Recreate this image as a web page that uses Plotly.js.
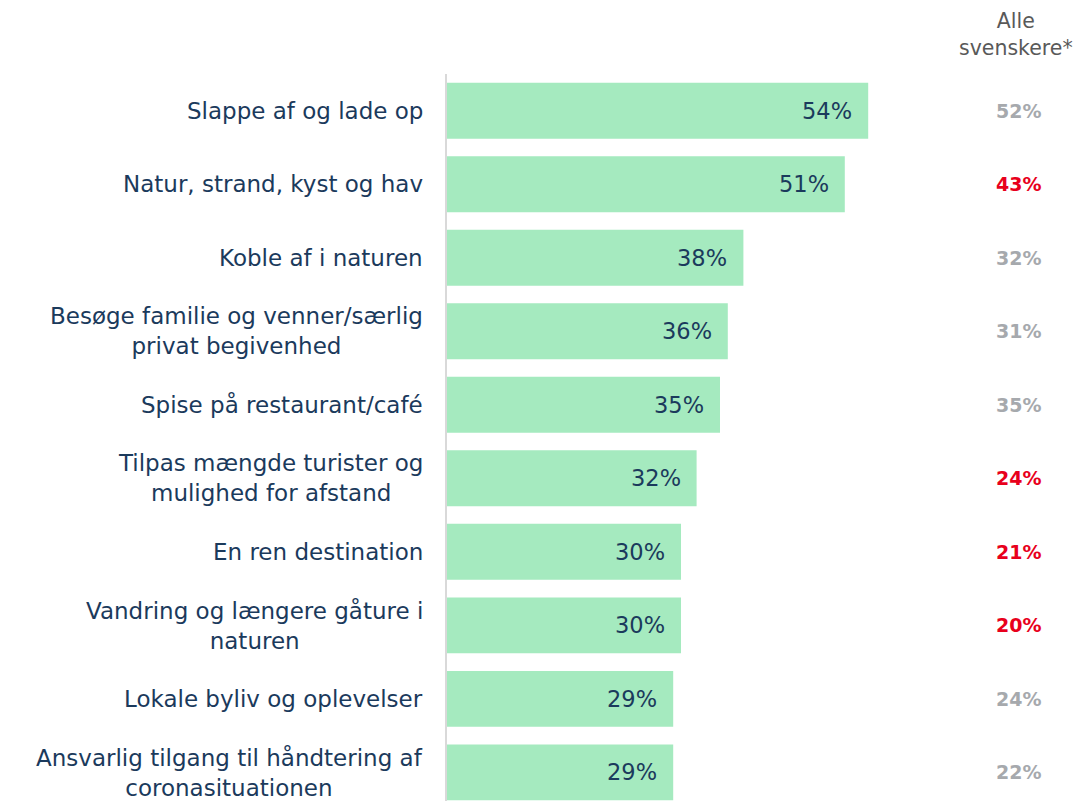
<!DOCTYPE html>
<html>
<head>
<meta charset="utf-8">
<script src="https://cdn.plot.ly/plotly-3.0.1.min.js"></script>
<style>html,body{margin:0;padding:0;background:#fff;}#chart{width:1076px;height:801px;}</style>
</head>
<body>
<div id="chart"></div>
<script>
const categories = [
  "Slappe af og lade op",
  "Natur, strand, kyst og hav",
  "Koble af i naturen",
  "Besøge familie og venner/særlig<br>privat begivenhed",
  "Spise på restaurant/café",
  "Tilpas mængde turister og<br>mulighed for afstand",
  "En ren destination",
  "Vandring og længere gåture i<br>naturen",
  "Lokale byliv og oplevelser",
  "Ansvarlig tilgang til håndtering af<br>coronasituationen"
];
const values = [54, 51, 38, 36, 35, 32, 30, 30, 29, 29];
const allSwedes = [52, 43, 32, 31, 35, 24, 21, 20, 24, 22];
const allSwedesSignificant = [false, true, false, false, false, true, true, true, false, false];
const columnHeader = "Alle<br>svenskere*";

const FONT = "DejaVu Sans, sans-serif";
const NAVY = "#1b3a5c";

const annotations = [];
values.forEach((v, i) => {
  annotations.push({
    x: 0, y: categories[i], xref: "paper", yref: "y",
    text: categories[i], showarrow: false, xanchor: "right", align: "center",
    xshift: -22,
    font: {family: FONT, size: 23, color: NAVY}
  });
  annotations.push({
    x: v, y: categories[i], xref: "x", yref: "y",
    text: v + "%", showarrow: false, xanchor: "right", xshift: -14,
    font: {family: FONT, size: 22.5, color: NAVY}
  });
  annotations.push({
    x: 1.092, y: categories[i], xref: "paper", yref: "y",
    text: "<b>" + allSwedes[i] + "%</b>", showarrow: false, xanchor: "right",
    font: {family: FONT, size: 19, color: allSwedesSignificant[i] ? "#e8001c" : "#a6a9ad"}
  });
});
annotations.push({
  x: 1.043, y: 1.0, xref: "paper", yref: "paper", yanchor: "bottom", yshift: 12,
  text: columnHeader, showarrow: false, xanchor: "center",
  font: {family: FONT, size: 20.5, color: "#595959"}
});

Plotly.newPlot("chart", [{
  type: "bar",
  orientation: "h",
  x: values,
  y: categories,
  marker: {color: "#a5eabf"},
  width: 0.76,
  hoverinfo: "none"
}], {
  width: 1076, height: 801,
  margin: {l: 447, r: 83, t: 74, b: 0, pad: 0},
  paper_bgcolor: "#fff", plot_bgcolor: "#fff",
  showlegend: false,
  xaxis: {range: [0, 70], visible: false, fixedrange: true},
  yaxis: {
    type: "category",
    range: [9.39, -0.5],
    showline: true, linecolor: "#d9d9d9", linewidth: 2,
    showgrid: false, zeroline: false,
    showticklabels: false, ticks: "",
    automargin: false
  },
  annotations: annotations
}, {displayModeBar: false, staticPlot: true});
</script>
</body>
</html>
